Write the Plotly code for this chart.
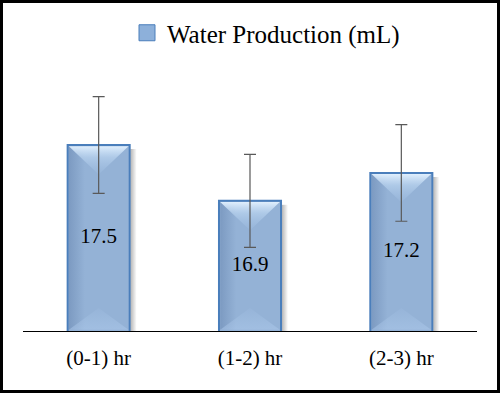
import plotly.graph_objects as go

categories = ["(0-1) hr", "(1-2) hr", "(2-3) hr"]
water_ml = [17.5, 16.9, 17.2]
err_ml = [0.52, 0.50, 0.52]
series_name = "Water Production (mL)"

W, H = 500, 393
ML, MR, MT, MB = 23, 23, 52, 62
Y_MIN, Y_MAX = 15.5, 18.5
BAR_W = 0.41

pw = W - ML - MR
ph = H - MT - MB
xpx = pw / 3.0
ypx = ph / (Y_MAX - Y_MIN)

FONT = "Liberation Serif"
BAR_FILL = "#94B2D6"
BAR_EDGE = "#4A7EBB"

xs = list(range(len(categories)))

fig = go.Figure()

fig.add_trace(go.Bar(
    x=xs, y=water_ml,
    marker=dict(color=BAR_FILL, line=dict(color=BAR_EDGE, width=2)),
    width=BAR_W, showlegend=False, hoverinfo="skip",
))

hw = BAR_W / 2
dx = 1.2 / xpx
dy = 1.2 / ypx
for i, v in zip(xs, water_ml):
    # right-side drop shadow
    fig.add_trace(go.Scatter(
        x=[i + hw + 1 / xpx, i + hw + 7 / xpx, i + hw + 7 / xpx, i + hw + 1 / xpx],
        y=[Y_MIN, Y_MIN, v - 4 / ypx, v - 4 / ypx],
        fill="toself", mode="none", showlegend=False, hoverinfo="skip",
        fillgradient=dict(type="horizontal",
                          colorscale=[[0, "rgba(0,0,0,0.28)"], [1, "rgba(0,0,0,0)"]]),
    ))
    # left darker shading
    fig.add_trace(go.Scatter(
        x=[i - hw + dx, i - hw + dx + 16 / xpx, i - hw + dx + 16 / xpx, i - hw + dx],
        y=[Y_MIN + dy, Y_MIN + dy, v - dy, v - dy],
        fill="toself", mode="none", showlegend=False, hoverinfo="skip",
        fillgradient=dict(type="horizontal",
                          colorscale=[[0, "rgba(80,110,155,0.35)"], [1, "rgba(80,110,155,0)"]]),
    ))
    # top bevel (light)
    depth_t = hw * xpx * 0.95 / ypx
    fig.add_trace(go.Scatter(
        x=[i - hw + dx, i + hw - dx, i],
        y=[v - dy, v - dy, v - depth_t],
        fill="toself", mode="none", showlegend=False, hoverinfo="skip",
        fillgradient=dict(type="vertical",
                          colorscale=[[0, "rgba(170,200,235,0.15)"],
                                      [0.6, "rgba(195,220,245,0.55)"],
                                      [1, "rgba(228,242,255,0.95)"]]),
    ))
    # bottom bevel (slightly lighter)
    depth_b = 23 / ypx
    fig.add_trace(go.Scatter(
        x=[i - hw + dx, i + hw - dx, i],
        y=[Y_MIN + dy, Y_MIN + dy, Y_MIN + depth_b],
        fill="toself", mode="none", showlegend=False, hoverinfo="skip",
        fillgradient=dict(type="vertical",
                          colorscale=[[0, "rgba(175,203,237,0.5)"], [1, "rgba(175,203,237,0.1)"]]),
    ))

# value labels centred inside the visible part of each bar
fig.add_trace(go.Scatter(
    x=xs, y=[(Y_MIN + v) / 2 for v in water_ml], mode="text",
    text=[f"{v}" for v in water_ml], textposition="middle center",
    textfont=dict(family=FONT, size=21, color="black"),
    showlegend=False, hoverinfo="skip",
))

# error bars on top
fig.add_trace(go.Scatter(
    x=xs, y=water_ml, mode="markers",
    marker=dict(size=1, opacity=0),
    error_y=dict(type="data", array=err_ml, color="#595959", thickness=1.2, width=6),
    showlegend=False, hoverinfo="skip",
))

# legend entry
fig.add_trace(go.Scatter(
    x=[None], y=[None], mode="markers", name=series_name,
    marker=dict(symbol="square", size=16, color="#8DB0DA",
                line=dict(color=BAR_EDGE, width=1)),
))

fig.add_shape(type="rect", xref="paper", yref="paper",
              x0=-(ML - 1.5) / pw, x1=1 + (MR - 1.5) / pw,
              y0=-(MB - 1.5) / ph, y1=1 + (MT - 1.5) / ph,
              line=dict(color="black", width=3), layer="above")

fig.update_layout(
    width=W, height=H,
    margin=dict(l=ML, r=MR, t=MT, b=MB, pad=0, autoexpand=False),
    paper_bgcolor="white", plot_bgcolor="white",
    font=dict(family=FONT, color="black"),
    bargap=0.59,
    showlegend=True,
    legend=dict(xref="container", yref="container",
                x=127 / W, xanchor="left", y=1 - 33 / H, yanchor="middle",
                orientation="h", font=dict(family=FONT, size=25, color="black"),
                bgcolor="rgba(0,0,0,0)"),
    xaxis=dict(range=[-0.5, 2.5], tickvals=xs, ticktext=categories,
               showline=True, linecolor="black",
               linewidth=1, showgrid=False, zeroline=False, ticks="",
               tickfont=dict(family=FONT, size=21, color="black"),
               ticklabelstandoff=8, fixedrange=True),
    yaxis=dict(range=[Y_MIN, Y_MAX], visible=False, fixedrange=True),
)

fig.write_html("out.html", config={"staticPlot": True},
               post_script="document.body.style.margin='0';document.body.style.overflow='hidden';")
